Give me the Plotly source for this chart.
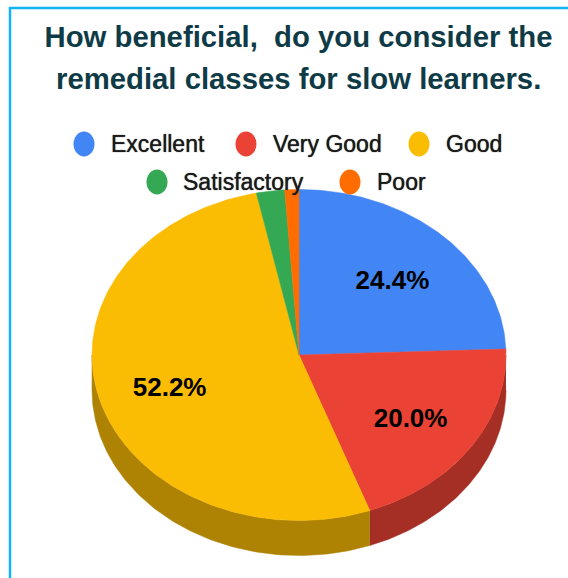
import numpy as np
import plotly.graph_objects as go

# ---- data ----
categories = ["Excellent", "Very Good", "Good", "Satisfactory", "Poor"]
values = [24.4, 20.0, 52.2, 2.2, 1.1]
labels_shown = ["24.4%", "20.0%", "52.2%", "", ""]
top_colors = ["#4285f4", "#ea4335", "#fbbc04", "#34a853", "#ff6d01"]
side_colors = ["#2e5daa", "#a52e25", "#ae8303", "#246f3a", "#b24c01"]
title_line_1 = "How beneficial,\u00a0\u00a0do you consider the"
title_line_2 = "remedial classes for slow learners."

W, H = 568, 578
CX, CY, RX, RY, DEPTH = 299, 355, 207, 165.5, 35

fracs = np.array(values) / sum(values)
ends = np.cumsum(fracs) * 2 * np.pi
starts = ends - fracs * 2 * np.pi


def ex(a):
    return CX + RX * np.sin(a)


def ey(a):
    return CY - RY * np.cos(a)


fig = go.Figure()

# extruded wall: only the front half (90 deg to 270 deg clockwise from top)
for name, s, e, col in zip(categories, starts, ends, side_colors):
    lo, hi = max(s, np.pi / 2), min(e, 3 * np.pi / 2)
    if hi <= lo:
        continue
    a = np.linspace(lo, hi, 120)
    x = np.r_[ex(a), ex(a[::-1])]
    y = np.r_[ey(a), ey(a[::-1]) + DEPTH]
    fig.add_trace(go.Scatter(x=x, y=y, mode="lines", fill="toself", fillcolor=col,
                             line=dict(color=col, width=0.5), hoverinfo="skip",
                             showlegend=False, name=name + " side"))

# top face
for name, s, e, col, v in zip(categories, starts, ends, top_colors, values):
    a = np.linspace(s, e, max(int((e - s) * 80), 8))
    x = np.r_[CX, ex(a), CX]
    y = np.r_[CY, ey(a), CY]
    fig.add_trace(go.Scatter(x=x, y=y, mode="lines", fill="toself", fillcolor=col,
                             line=dict(color=col, width=0.5), name=name,
                             text=f"{name}: {v}%", hoverinfo="text", showlegend=False))

# slice labels
mids = (starts + ends) / 2
idx = [i for i, t in enumerate(labels_shown) if t]
fig.add_trace(go.Scatter(
    x=[CX + 0.65 * RX * np.sin(mids[i]) for i in idx],
    y=[CY - 0.65 * RY * np.cos(mids[i]) + 5 for i in idx],
    text=[labels_shown[i] for i in idx], mode="text", textposition="middle center",
    textfont=dict(family="Liberation Sans", size=26, color="#000000", weight="bold"),
    hoverinfo="skip", showlegend=False))

# legend, two centred rows, stretched dots as in the reference
legend_dot_x = [84, 246, 419, 157, 350]
legend_text_x = [109, 271, 444, 181, 375]
legend_y = [144, 144, 144, 182, 182]
shapes = []
annotations = []
for name, col, dx, tx, ly in zip(categories, top_colors, legend_dot_x, legend_text_x, legend_y):
    shapes.append(dict(type="circle", xref="x", yref="y", x0=dx - 10.5, x1=dx + 10.5,
                       y0=ly - 12.5, y1=ly + 12.5, fillcolor=col, line=dict(width=0), layer="above"))
    annotations.append(dict(x=tx, y=ly, xref="x", yref="y", text=name, showarrow=False,
                            xanchor="left", yanchor="middle",
                            font=dict(family="Liberation Sans", size=23, color="#1a1a1a",
                                      shadow="0 0 1px #1a1a1a")))

# second title line (its spacing is wider than a title's fixed line height)
annotations.append(dict(x=298.5, y=78, xref="x", yref="y", text=title_line_2, showarrow=False,
                        xanchor="center", yanchor="middle",
                        font=dict(family="Liberation Sans", size=29.3, color="#0f3b47", weight="bold")))

# frame (top and left edges visible in the crop)
shapes.append(dict(type="path", xref="x", yref="y", path=f"M {W} 8 L 10 8 L 10 {H}",
                   line=dict(color="#10b4f4", width=2.5), layer="above"))

fig.update_layout(
    width=W, height=H, margin=dict(l=0, r=0, t=0, b=0),
    paper_bgcolor="white", plot_bgcolor="white",
    xaxis=dict(range=[0, W], visible=False, fixedrange=True),
    yaxis=dict(range=[H, 0], visible=False, fixedrange=True),
    showlegend=False, shapes=shapes, annotations=annotations,
    title=dict(text=title_line_1, x=298.5 / W, xanchor="center", y=1 - 37 / H, yanchor="middle",
               font=dict(family="Liberation Sans", size=29.3, color="#0f3b47", weight="bold")),
)

fig.write_html("out.html", config=dict(displayModeBar=False),
               post_script="document.body.style.margin='0';document.body.style.overflow='hidden';")
